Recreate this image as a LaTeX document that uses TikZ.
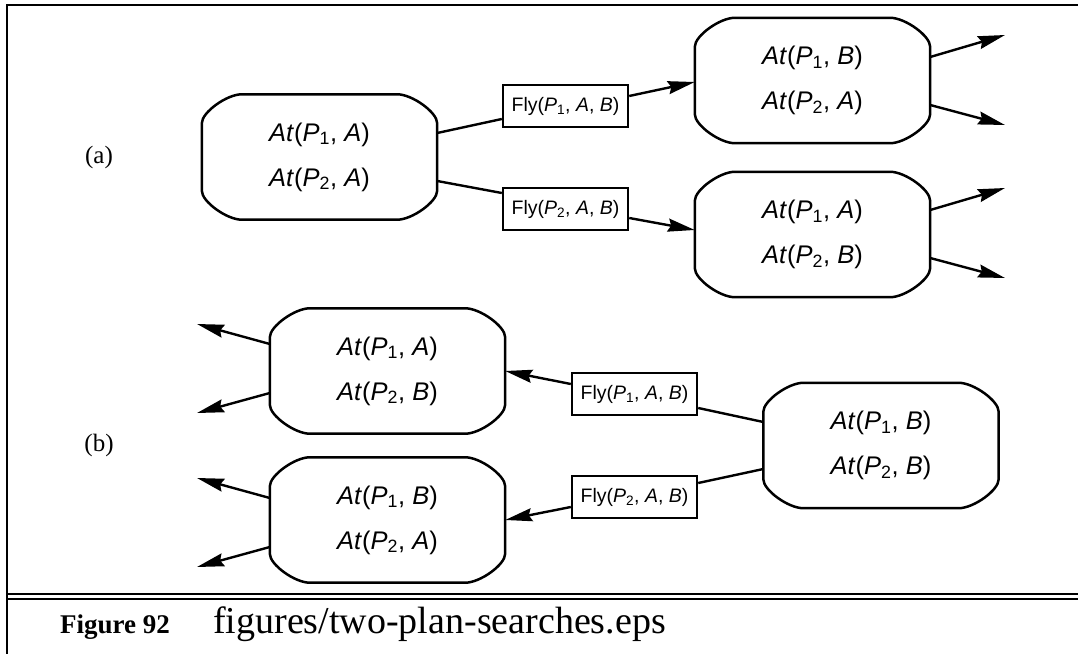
\documentclass[tikz,border=0pt]{standalone}
\usepackage{fontspec}
\setmainfont{Liberation Serif}
\newfontfamily\helv{Liberation Sans}
\newfontfamily\tms{Liberation Serif}
\usetikzlibrary{arrows.meta,calc}
\newcommand\sub[1]{\textsubscript{#1}}
\newcommand\atl[2]{\textit{At}(\textit{P}\sub{#1}, \textit{#2})}
\newcommand\flyl[1]{Fly(\textit{P}\sub{#1}, \textit{A}, \textit{B})}
% state outline: flat-curved (chamfer-like) corners 40 x 29
\newcommand\stateoutline[1]{%
  \draw[bord] ([xshift=40pt]#1.north west) -- ([xshift=-40pt]#1.north east)
    .. controls ([xshift=-25pt]#1.north east) and ([yshift=-18pt]#1.north east) .. ([yshift=-29pt]#1.north east)
    -- ([yshift=29pt]#1.south east)
    .. controls ([yshift=18pt]#1.south east) and ([xshift=-25pt]#1.south east) .. ([xshift=-40pt]#1.south east)
    -- ([xshift=40pt]#1.south west)
    .. controls ([xshift=25pt]#1.south west) and ([yshift=18pt]#1.south west) .. ([yshift=29pt]#1.south west)
    -- ([yshift=-29pt]#1.north west)
    .. controls ([yshift=-18pt]#1.north west) and ([xshift=25pt]#1.north west) .. ([xshift=40pt]#1.north west)
    -- cycle;}
\begin{document}
\begin{tikzpicture}[x=1pt,y=1pt,
  bord/.style={line width=2.5pt, line join=round},
  st/.style={minimum width=235pt, minimum height=125pt, inner sep=0pt, align=center,
    font=\helv\fontsize{25.5}{45}\selectfont},
  fly/.style={draw, line width=2.4pt, minimum width=125pt, minimum height=42pt, inner sep=0pt,
    font=\helv\fontsize{19.5}{22}\selectfont},
  conn/.style={line width=2.4pt},
  arr/.style={conn, -{Stealth[length=27pt,width=13pt,inset=3pt]}},
  lab/.style={font=\tms\fontsize{25}{30}\selectfont, inner sep=0pt}]
\useasboundingbox (0,0) rectangle (1078,654);
% frame
\draw[line width=2.7pt] (1078,649) -- (7,649) -- (7,0);
\draw[line width=2.2pt] (7,60) -- (1078,60) (7,55) -- (1078,55);
% caption
\node[anchor=base west, inner sep=0pt, font=\tms\bfseries\fontsize{27}{30}\selectfont] (capnum) at (60,21) {Figure 92};
\node[anchor=base west, inner sep=0pt, font=\tms\fontsize{38}{42}\selectfont] (capfile) at (213,21) {figures/two-plan-searches.eps};
% labels
\node[lab] (la) at (99,497) {(a)};
\node[lab] (lb) at (99,209) {(b)};
% (a) states and actions
\node[st] (S0) at (319.5,497) {\atl{1}{A}\\\atl{2}{A}};
\node[st] (S1) at (812.5,573.5) {\atl{1}{B}\\\atl{2}{A}};
\node[st] (S2) at (812.5,419.5) {\atl{1}{A}\\\atl{2}{B}};
\node[fly] (a1) at (565.5,548) {\flyl{1}};
\node[fly] (a2) at (565.5,445) {\flyl{2}};
% (b) states and actions
\node[st] (G) at (881,208.5) {\atl{1}{B}\\\atl{2}{B}};
\node[st] (LA) at (387.5,283) {\atl{1}{A}\\\atl{2}{B}};
\node[st] (LB) at (387.5,134) {\atl{1}{B}\\\atl{2}{A}};
\node[fly] (b1) at (634.5,260) {\flyl{1}};
\node[fly] (b2) at (634.5,157) {\flyl{2}};
\stateoutline{S0}
\stateoutline{S1}
\stateoutline{S2}
\stateoutline{G}
\stateoutline{LA}
\stateoutline{LB}
% free ends
\coordinate (e1) at (1005,619);
\coordinate (e2) at (1005,529);
\coordinate (e3) at (1005,466);
\coordinate (e4) at (1005,376);
\coordinate (f1) at (197,330);
\coordinate (f2) at (197,241);
\coordinate (f3) at (197,176);
\coordinate (f4) at (197,87);
% connectors (a)
\draw[conn] ($(S0.east)+(0,24)$) -- ($(a1.west)+(0,-13)$);
\draw[arr] ($(a1.east)+(0,10)$) -- ($(S1.west)+(0,-1.5)$);
\draw[conn] ($(S0.east)+(0,-24)$) -- ($(a2.west)+(0,16)$);
\draw[arr] ($(a2.east)+(0,-9)$) -- ($(S2.west)+(0,4.5)$);
\draw[arr] ($(S1.east)+(0,23.5)$) -- (e1);
\draw[arr] ($(S1.east)+(0,-24.5)$) -- (e2);
\draw[arr] ($(S2.east)+(0,24.5)$) -- (e3);
\draw[arr] ($(S2.east)+(0,-23.5)$) -- (e4);
% connectors (b)
\draw[conn] ($(G.west)+(0,23.5)$) -- ($(b1.east)+(0,-14)$);
\draw[arr] ($(b1.west)+(0,10)$) -- (LA.east);
\draw[conn] ($(G.west)+(0,-23.5)$) -- ($(b2.east)+(0,14)$);
\draw[arr] ($(b2.west)+(0,-10)$) -- (LB.east);
\draw[arr] ($(LA.west)+(0,27)$) -- (f1);
\draw[arr] ($(LA.west)+(0,-22)$) -- (f2);
\draw[arr] ($(LB.west)+(0,22)$) -- (f3);
\draw[arr] ($(LB.west)+(0,-27)$) -- (f4);
\end{tikzpicture}
\end{document}
